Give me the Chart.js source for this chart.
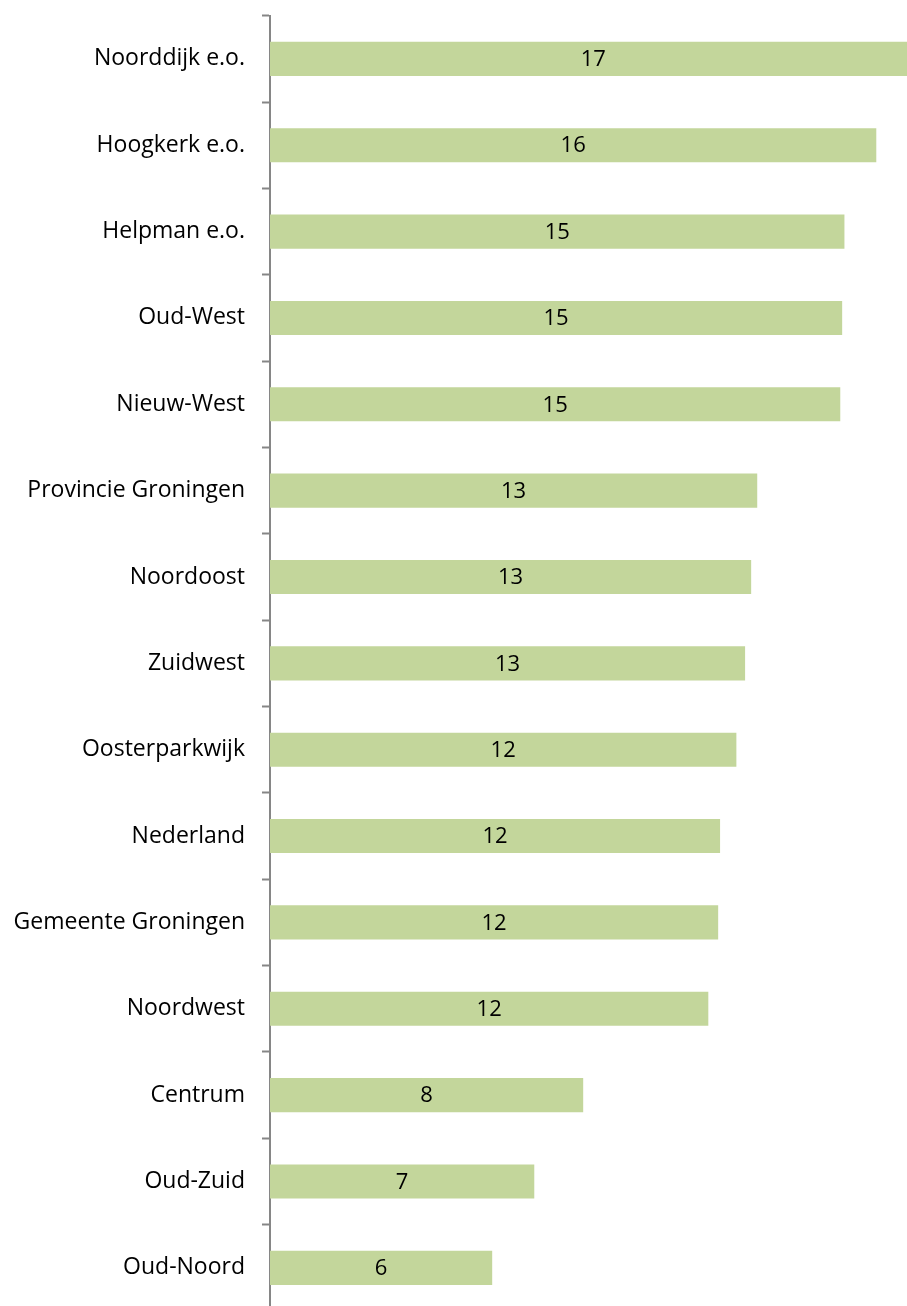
<!DOCTYPE html>
<html>
<head>
<meta charset="utf-8">
<script src="https://cdn.jsdelivr.net/npm/chart.js@4/dist/chart.umd.min.js"></script>
<style>
  html, body { margin: 0; padding: 0; background: #fff; overflow: hidden; }
  #wrap { width: 907px; height: 1311px; }
</style>
</head>
<body>
<div id="wrap"><canvas id="wijkChart"></canvas></div>
<script>
const wijken = [
    'Noorddijk e.o.', 'Hoogkerk e.o.', 'Helpman e.o.', 'Oud-West', 'Nieuw-West',
    'Provincie Groningen', 'Noordoost', 'Zuidwest', 'Oosterparkwijk', 'Nederland',
    'Gemeente Groningen', 'Noordwest', 'Centrum', 'Oud-Zuid', 'Oud-Noord'
];
const percentages = [
    17.05, 15.99, 15.15, 15.09, 15.04,
    12.85, 12.69, 12.53, 12.30, 11.87,
    11.82, 11.56, 8.26, 6.97, 5.86
];

const FONT = '"Open Sans", "Liberation Sans", sans-serif';

// rounded value centred inside each bar
const barLabels = {
    id: 'barLabels',
    afterDatasetsDraw(chart) {
        const c = chart.ctx;
        const meta = chart.getDatasetMeta(0);
        c.save();
        c.font = '22px ' + FONT;
        c.fillStyle = '#000';
        c.textAlign = 'center';
        c.textBaseline = 'middle';
        meta.data.forEach((bar, i) => {
            const v = chart.data.datasets[0].data[i];
            c.fillText(Math.round(v), (bar.base + bar.x) / 2, bar.y + 1);
        });
        c.restore();
    }
};

const ctx = document.getElementById('wijkChart').getContext('2d');
const wijkChart = new Chart(ctx, {
    type: 'bar',
    data: {
        labels: wijken,
        datasets: [{
            data: percentages,
            backgroundColor: '#c3d69b',
            borderWidth: 0,
            categoryPercentage: 1,
            barPercentage: 0.395
        }]
    },
    options: {
        indexAxis: 'y',
        responsive: true,
        maintainAspectRatio: false,
        animation: false,
        layout: { padding: { top: 15.7, right: 0, bottom: 0, left: 0 } },
        scales: {
            x: {
                display: false,
                min: 0,
                max: 16.8
            },
            y: {
                afterFit(scale) {
                    scale.width = 270;
                    scale.paddingTop = 0;
                    scale.paddingBottom = 0;
                },
                border: { color: '#868686', width: 2 },
                grid: {
                    drawOnChartArea: false,
                    tickLength: 8,
                    tickWidth: 2,
                    color: '#868686'
                },
                ticks: {
                    padding: 17,
                    color: '#000',
                    font: { family: FONT, size: 23 }
                }
            }
        },
        plugins: {
            legend: { display: false },
            tooltip: { enabled: false }
        }
    },
    plugins: [barLabels]
});
</script>
</body>
</html>
